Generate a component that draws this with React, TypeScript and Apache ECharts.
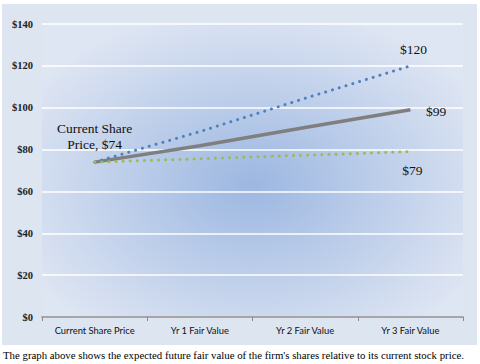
import React, { useEffect, useRef } from "react";
import * as echarts from "echarts";

const categories = ["Current Share Price", "Yr 1 Fair Value", "Yr 2 Fair Value", "Yr 3 Fair Value"];
const optimistic = [74, 88.6, 104.5, 120];
const base = [74, 81.8, 90.5, 99];
const pessimistic = [74, 75.6, 77.3, 79];
const yTicks = [0, 20, 40, 60, 80, 100, 120, 140];
const caption = "The graph above shows the expected future fair value of the firm's shares relative to its current stock price.";

const serif = "'Liberation Serif', 'Times New Roman', serif";

export default function App() {
  const ref = useRef<HTMLDivElement>(null);
  useEffect(() => {
    const chart = echarts.init(ref.current!, null, { renderer: "svg" });
    const labelStyle = { fontFamily: serif, fontSize: 13.5, color: "#111" };
    const hiddenSymbol = {
      showSymbol: true,
      symbol: "circle",
      symbolSize: 1,
      itemStyle: { color: "rgba(0,0,0,0)" },
    };
    chart.setOption({
      animation: false,
      backgroundColor: "#ffffff",
      grid: {
        left: 42,
        right: 17,
        top: 24,
        bottom: 47,
        show: true,
        borderWidth: 0,
        backgroundColor: {
          type: "radial",
          x: 0.5,
          y: 0.55,
          r: 0.62,
          colorStops: [
            { offset: 0, color: "#9cb7e1" },
            { offset: 1, color: "#dfe6f3" },
          ],
        },
      },
      graphic: [
        {
          type: "rect",
          z: -10,
          silent: true,
          shape: { x: 2, y: 4, width: 475, height: 341 },
          style: { fill: "#dce5f0" },
        },
        {
          type: "text",
          x: 3,
          y: 349,
          style: { text: caption, fontFamily: serif, fontSize: 10.8, fill: "#000" },
        },
      ],
      xAxis: {
        type: "category",
        data: categories,
        boundaryGap: true,
        axisLine: { show: true, lineStyle: { color: "#8a8a8a", width: 1.5 } },
        axisTick: { show: true, length: 4, lineStyle: { color: "#8a8a8a" } },
        axisLabel: { fontFamily: "Lato, 'Open Sans', sans-serif", fontSize: 9.4, color: "#111", margin: 9 },
        splitLine: { show: false },
      },
      yAxis: {
        type: "value",
        min: 0,
        max: 140,
        interval: 20,
        axisLine: { show: false },
        axisTick: { show: false },
        axisLabel: {
          fontFamily: serif,
          fontWeight: "bold",
          fontSize: 10.5,
          color: "#222",
          margin: 9,
          formatter: (v: number) => (yTicks.includes(v) ? "$" + v : ""),
        },
        splitLine: { show: true, lineStyle: { color: "#ffffff", width: 1.5 } },
      },
      series: [
        {
          name: "Optimistic",
          type: "line",
          ...hiddenSymbol,
          z: 3,
          lineStyle: { color: "#4f81bd", width: 3, type: [0.1, 7], cap: "round" },
          data: optimistic.map((v, i) =>
            i === optimistic.length - 1
              ? { value: v, label: { show: true, position: "top", offset: [3, -4], formatter: "$" + v, ...labelStyle } }
              : v
          ),
        },
        {
          name: "Base",
          type: "line",
          ...hiddenSymbol,
          z: 2,
          lineStyle: { color: "#7f7f7f", width: 3.5, type: "solid" },
          data: base.map((v, i) =>
            i === 0
              ? {
                  value: v,
                  label: {
                    show: true,
                    position: "top",
                    offset: [0, -4],
                    align: "center",
                    lineHeight: 16,
                    formatter: "Current Share\nPrice, $" + v,
                    ...labelStyle,
                  },
                }
              : i === base.length - 1
              ? { value: v, label: { show: true, position: "right", offset: [10, 2], formatter: "$" + v, ...labelStyle } }
              : v
          ),
        },
        {
          name: "Pessimistic",
          type: "line",
          ...hiddenSymbol,
          z: 3,
          lineStyle: { color: "#9bbb59", width: 3, type: [0.1, 7], cap: "round" },
          data: pessimistic.map((v, i) =>
            i === pessimistic.length - 1
              ? { value: v, label: { show: true, position: "bottom", offset: [2, 6], formatter: "$" + v, ...labelStyle } }
              : v
          ),
        },
      ],
    });
    return () => chart.dispose();
  }, []);
  return <div ref={ref} style={{ position: "absolute", left: 0, top: 0, width: 480, height: 364 }} />;
}
